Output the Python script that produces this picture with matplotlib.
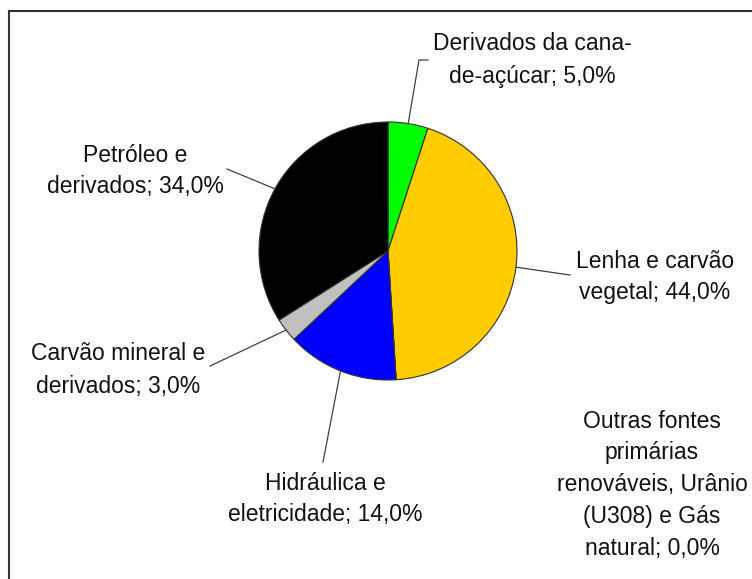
import matplotlib.pyplot as plt
from matplotlib.patches import Rectangle
import numpy as np

plt.rcParams['font.family'] = ['Liberation Sans', 'DejaVu Sans']

# Data
labels = ['Derivados da cana-\nde-açúcar; 5,0%',
          'Lenha e carvão\nvegetal; 44,0%',
          'Outras fontes\nprimárias\nrenováveis, Urânio\n(U308) e Gás\nnatural; 0,0%',
          'Hidráulica e\neletricidade; 14,0%',
          'Carvão mineral e\nderivados; 3,0%',
          'Petróleo e\nderivados; 34,0%']
values = [5.0, 44.0, 0.0, 14.0, 3.0, 34.0]
colors = ['#00FF00', '#FFCC00', '#FFFFFF', '#0000FF', '#C0C0C0', '#000000']

# label centres (pixels, y from top) and leader line end points
label_pos = [(532, 60), (655, 277), (652, 485), (325, 499), (118, 370), (135, 171)]
leader_end = [[(419, 60), (428, 60)], [(570, 275)], None, [(323, 462)], [(210, 366)], [(227, 169)]]

W, H = 752, 579
fig = plt.figure(figsize=(W / 100, H / 100), dpi=100)
ax = fig.add_axes([0, 0, 1, 1])

cx, cy, r = 388, H - 251, 129
wedges, _ = ax.pie(values, colors=colors, startangle=90, counterclock=False,
                   center=(cx, cy), radius=r, frame=True,
                   wedgeprops=dict(edgecolor='#303030', linewidth=0.8))
ax.set_xlim(0, W)
ax.set_ylim(0, H)
ax.set_aspect('equal')
ax.axis('off')

# border
ax.add_patch(Rectangle((9, -5), W, H - 11 + 5, fill=False, edgecolor='#333333', lw=1.5))

for w, lab, pos, le in zip(wedges, labels, label_pos, leader_end):
    ax.text(pos[0], H - pos[1], lab, ha='center', va='center', fontsize=16.5,
            linespacing=1.5, color='#111111')
    if le is None:
        continue
    ang = np.deg2rad((w.theta1 + w.theta2) / 2)
    xs = [cx + r * np.cos(ang)] + [p[0] for p in le]
    ys = [cy + r * np.sin(ang)] + [H - p[1] for p in le]
    ax.plot(xs, ys, color='#404040', lw=0.9)

fig.savefig('out.png', dpi=100)
